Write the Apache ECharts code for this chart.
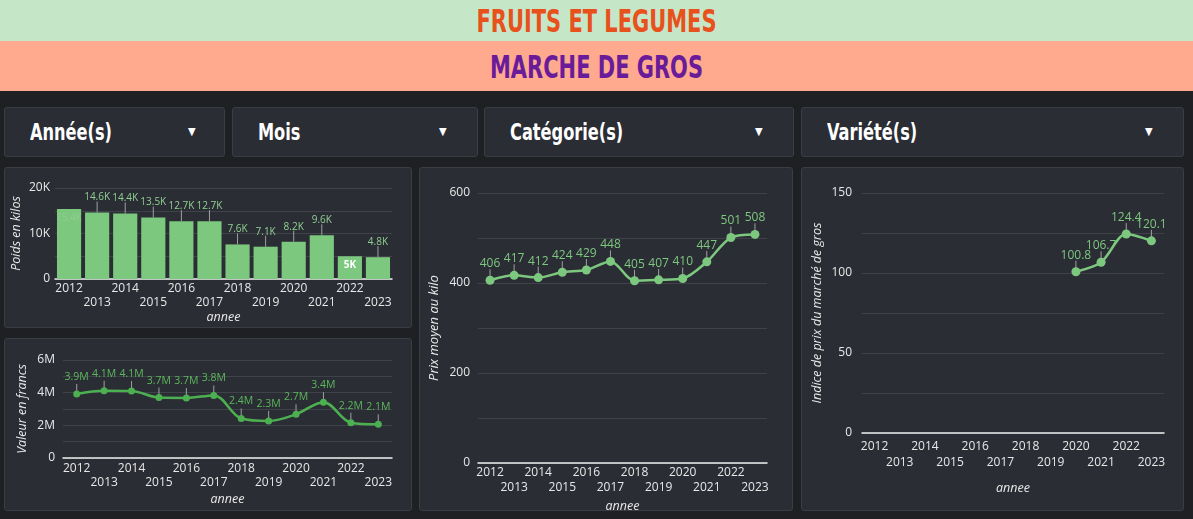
<!DOCTYPE html>
<html><head><meta charset="utf-8">
<script src="https://cdn.jsdelivr.net/npm/echarts@6/dist/echarts.min.js"></script>
<style>
html,body{margin:0;padding:0;background:#1f2024;width:1193px;height:519px;overflow:hidden;font-family:"Open Sans",sans-serif;}
.band{position:absolute;left:0;width:1193px;text-align:center;font-family:"DejaVu Sans Condensed","DejaVu Sans",sans-serif;font-weight:bold;}
.band span{display:inline-block;transform:scaleY(1.35);}
#b1{top:0;height:41px;background:#c6e6c8;color:#e8501c;font-size:23.3px;line-height:41px;}
#b2{top:41px;height:50px;background:#ffa98f;color:#6a1b9a;font-size:23.3px;line-height:52px;}
.box{position:absolute;background:#2b2d35;border:1px solid #3b3d45;border-radius:3px;box-sizing:border-box;}
.flt{top:107px;height:50px;color:#fff;font-family:"DejaVu Sans Condensed","DejaVu Sans",sans-serif;font-weight:bold;font-size:18px;line-height:48px;padding-left:25px;}
.flt .t{display:inline-block;transform:scaleY(1.3);}
.arr{position:absolute;top:0;font-size:11px;color:#fff;}
#chart{position:absolute;left:0;top:0;width:1193px;height:519px;z-index:2;}
</style></head>
<body>
<div class="band" id="b1"><span>FRUITS ET LEGUMES</span></div>
<div class="band" id="b2"><span>MARCHE DE GROS</span></div>
<div class="box flt" style="left:4px;width:221px;"><span class="t">Année(s)</span><span class="arr" style="left:183px">▼</span></div>
<div class="box flt" style="left:232px;width:246px;"><span class="t">Mois</span><span class="arr" style="left:206px">▼</span></div>
<div class="box flt" style="left:484px;width:310px;"><span class="t">Catégorie(s)</span><span class="arr" style="left:270px">▼</span></div>
<div class="box flt" style="left:801px;width:383px;"><span class="t">Variété(s)</span><span class="arr" style="left:343px">▼</span></div>
<div class="box" style="left:4px;top:167px;width:408px;height:161px;"></div>
<div class="box" style="left:4px;top:338px;width:408px;height:173px;"></div>
<div class="box" style="left:419px;top:167px;width:374px;height:344px;"></div>
<div class="box" style="left:801px;top:167px;width:383px;height:344px;"></div>
<div id="chart"></div>
<script>
const annees = ['2012','2013','2014','2015','2016','2017','2018','2019','2020','2021','2022','2023'];
const poidsKilos = [15400,14600,14400,13500,12700,12700,7600,7100,8200,9600,5000,4800];
const valeurFrancs = [3920000,4120000,4100000,3700000,3680000,3830000,2420000,2270000,2680000,3420000,2160000,2060000];
const prixMoyen = [406,417,412,424,429,448,405,407,410,447,501,508];
const indicePrix = [null,null,null,null,null,null,null,null,100.8,106.7,124.4,120.1];
const labelsInsideBar = ['2012','2022'];

const FONT = '"Open Sans", sans-serif';
const AXC = '#e8e8e8';
const GRIDC = 'rgba(255,255,255,0.10)';
const LIGHTG = '#7dc87f';

function fmtK(v){ let s=(v/1000).toFixed(1); if(s.endsWith('.0')) s=s.slice(0,-2); return s+'K'; }
function fmtM(v){ let s=(v/1e6).toFixed(1); if(s.endsWith('.0')) s=s.slice(0,-2); return s+'M'; }

function xAxis(gi, margin, lh, gap){
  return {type:'category', gridIndex:gi, data:annees, boundaryGap:true,
    axisLine:{show:true,lineStyle:{color:'#f0f0f0',width:1.5}}, axisTick:{show:false},
    axisLabel:{interval:0,color:AXC,fontFamily:FONT,fontSize:12,margin:margin,lineHeight:lh,
      formatter:(v,i)=> i%2 ? '\n'+v : v},
    name:'annee', nameLocation:'middle', nameGap:gap,
    nameTextStyle:{color:AXC,fontFamily:FONT,fontSize:12.5,fontStyle:'italic'}};
}
function yAxis(gi, max, interval, labelEvery, fmt, name, gap, margin, nameSize){
  return {type:'value', gridIndex:gi, min:0, max:max, interval:interval,
    axisLine:{show:false}, axisTick:{show:false},
    splitLine:{show:true,lineStyle:{color:GRIDC,width:1}},
    axisLabel:{color:AXC,fontFamily:FONT,fontSize:12,margin:margin,
      formatter:v=> (Math.round(v)%labelEvery===0) ? fmt(v) : ''},
    name:name, nameLocation:'middle', nameGap:gap, nameRotate:90,
    nameTextStyle:{color:AXC,fontFamily:FONT,fontSize:nameSize,fontStyle:'italic'}};
}
function leader(gi, values, from, to, skip){
  return {type:'custom', xAxisIndex:gi, yAxisIndex:gi, silent:true, z:1,
    data: values.map((v,i)=>[i, v==null?'-':v]),
    renderItem:(params, api)=>{
      const idx = api.value(0), v = api.value(1);
      if (v==null || isNaN(v)) return;
      if (skip && skip.indexOf(annees[idx])>=0) return;
      const p = api.coord([idx, v]);
      return {type:'line', shape:{x1:p[0],y1:p[1]-from,x2:p[0],y2:p[1]-to},
        style:{stroke:'#a0a0a0',lineWidth:1}};
    }};
}

const chart = echarts.init(document.getElementById('chart'), null, {renderer:'canvas'});
const option = {
  backgroundColor:'transparent',
  animation:false,
  grid:[
    {left:55, top:188, width:337, height:91},
    {left:63, top:360, width:329, height:98},
    {left:478, top:193, width:289, height:270},
    {left:862, top:193, width:302, height:240}
  ],
  xAxis:[ xAxis(0,3,14,32), xAxis(1,4,14,35), xAxis(2,2,15,31), xAxis(3,6,16,49) ],
  yAxis:[
    yAxis(0,20000,5000,10000, v=> v===0?'0':(v/1000)+'K', 'Poids en kilos', 32, 5, 12.5),
    yAxis(1,6000000,1000000,2000000, v=> v===0?'0':(v/1e6)+'M', 'Valeur en francs', 34, 8, 12.5),
    yAxis(2,600,100,200, v=> String(v), 'Prix moyen au kilo', 37, 8, 13),
    yAxis(3,150,25,50, v=> String(v), 'Indice de prix du marché de gros', 38, 10, 12.5)
  ],
  series:[
    {type:'bar', xAxisIndex:0, yAxisIndex:0, barCategoryGap:'14%', z:2,
     itemStyle:{color:LIGHTG},
     data: poidsKilos.map((v,i)=>{
       if (labelsInsideBar.indexOf(annees[i])>=0){
         const dark = annees[i]==='2022';
         return {value:v, label:{position:'insideTop',distance:4,
           color: dark ? '#ffffff' : 'rgba(255,255,255,0.12)', fontWeight: dark?'bold':'normal'}};
       }
       return v;
     }),
     label:{show:true,position:'top',distance:10,color:'#8fd091',fontFamily:FONT,fontSize:10,
       formatter:p=>fmtK(p.value)}},
    leader(0, poidsKilos, 0, 11, labelsInsideBar),
    {type:'line', xAxisIndex:1, yAxisIndex:1, data:valeurFrancs, smooth:0.35, z:3,
     symbol:'circle', symbolSize:7, lineStyle:{color:'#4caf50',width:2.5}, itemStyle:{color:'#4caf50'},
     label:{show:true,position:'top',distance:8,color:'#5cb85c',fontFamily:FONT,fontSize:10.5,
       formatter:p=>fmtM(p.value)}},
    leader(1, valeurFrancs, 2, 10),
    {type:'line', xAxisIndex:2, yAxisIndex:2, data:prixMoyen, smooth:0.3, z:3,
     symbol:'circle', symbolSize:9, lineStyle:{color:LIGHTG,width:2.5}, itemStyle:{color:LIGHTG},
     label:{show:true,position:'top',distance:6,color:LIGHTG,fontFamily:FONT,fontSize:12}},
    leader(2, prixMoyen, 3, 11),
    {type:'line', xAxisIndex:3, yAxisIndex:3, data:indicePrix.map(v=>v==null?'-':v), smooth:0.3, z:3,
     symbol:'circle', symbolSize:9, lineStyle:{color:LIGHTG,width:2.5}, itemStyle:{color:LIGHTG},
     label:{show:true,position:'top',distance:6,color:LIGHTG,fontFamily:FONT,fontSize:12,
       formatter:p=>Number(p.value).toFixed(1)}},
    leader(3, indicePrix, 3, 11)
  ]
};
chart.setOption(option);
</script>
</body></html>
